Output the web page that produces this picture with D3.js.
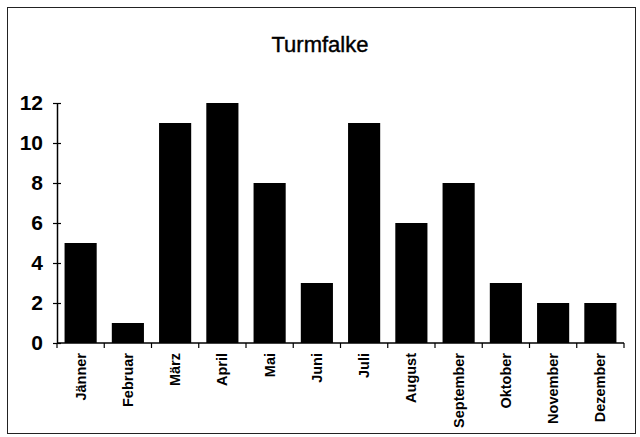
<!DOCTYPE html>
<html>
<head>
<meta charset="utf-8">
<script src="https://cdn.jsdelivr.net/npm/d3@7"></script>
<style>
  body { margin: 0; background: #fff; }
  svg { display: block; font-family: "Liberation Sans", Arial, sans-serif; }
</style>
</head>
<body>
<div class="chart"></div>
<script>
var months = ["Jänner", "Februar", "März", "April", "Mai", "Juni",
              "Juli", "August", "September", "Oktober", "November", "Dezember"];
var counts = [5, 1, 11, 12, 8, 3, 11, 6, 8, 3, 2, 2];
var yTicks = [0, 2, 4, 6, 8, 10, 12];

var svgWidth = 640, svgHeight = 437;
var margin = { top: 103, bottom: 94, left: 57, right: 16 };
var width = svgWidth - margin.left - margin.right;
var height = svgHeight - margin.top - margin.bottom;

var svg = d3.select(".chart")
    .append("svg")
    .attr("width", svgWidth)
    .attr("height", svgHeight);

// outer frame
svg.append("rect")
    .attr("x", 7.5).attr("y", 7.5)
    .attr("width", 628).attr("height", 426)
    .attr("fill", "none")
    .attr("stroke", "#222")
    .attr("stroke-width", 1);

svg.append("text")
    .attr("x", 320).attr("y", 52)
    .attr("text-anchor", "middle")
    .attr("font-size", 22)
    .attr("fill", "#000")
    .attr("stroke", "#000")
    .attr("stroke-width", 0.4)
    .text("Turmfalke");

var chartGroup = svg.append("g")
    .attr("transform", `translate(${margin.left}, ${margin.top})`);

var x = d3.scaleBand()
    .domain(months)
    .range([0, width])
    .paddingInner(0.32)
    .paddingOuter(0.16);

var y = d3.scaleLinear()
    .domain([0, 12])
    .range([height, 0]);

chartGroup.selectAll("rect.bar")
    .data(counts)
    .enter()
    .append("rect")
    .attr("class", "bar")
    .attr("x", (d, i) => x(months[i]))
    .attr("y", d => y(d))
    .attr("width", x.bandwidth())
    .attr("height", d => height - y(d))
    .attr("fill", "#000");

// y axis (ticks cross the line)
var yAxis = chartGroup.append("g")
    .call(d3.axisLeft(y).tickValues(yTicks).tickSizeInner(4).tickSizeOuter(0).tickPadding(10));
yAxis.select(".domain").attr("stroke", "#000").attr("stroke-width", 1.5);
yAxis.selectAll(".tick line").attr("x2", 4).attr("x1", -4).attr("stroke-width", 1.2);
yAxis.selectAll("text")
    .attr("font-size", 21)
    .attr("font-weight", "bold")
    .attr("fill", "#000")
    .attr("font-family", "Liberation Sans, Arial, sans-serif");

// x axis with ticks at category boundaries
var xAxis = chartGroup.append("g")
    .attr("transform", `translate(0,${height})`);
xAxis.append("line")
    .attr("x1", 0).attr("x2", width)
    .attr("stroke", "#000").attr("stroke-width", 1.5);
var bounds = d3.range(months.length + 1).map(i => i * x.step());
xAxis.selectAll("line.tk")
    .data(bounds)
    .enter()
    .append("line")
    .attr("class", "tk")
    .attr("x1", d => d).attr("x2", d => d)
    .attr("y1", 0).attr("y2", 5)
    .attr("stroke", "#000").attr("stroke-width", 1.2);

xAxis.selectAll("text")
    .data(months)
    .enter()
    .append("text")
    .attr("transform", d => `translate(${x(d) + x.bandwidth() / 2 + 5}, 10) rotate(-90)`)
    .attr("text-anchor", "end")
    .attr("font-size", 14.5)
    .attr("font-weight", "bold")
    .attr("fill", "#000")
    .text(d => d);
</script>
</body>
</html>
